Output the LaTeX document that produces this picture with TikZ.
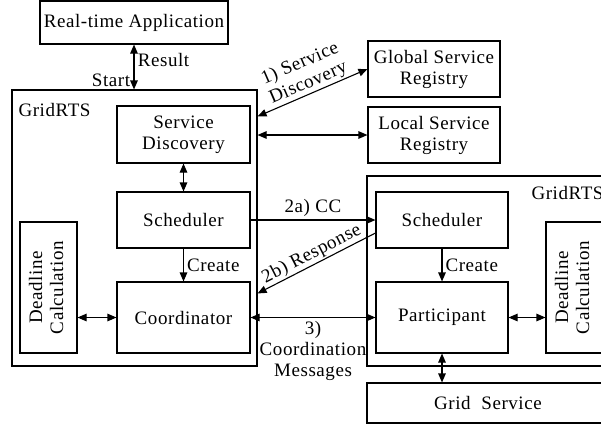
\documentclass[tikz,border=0pt]{standalone}
\usepackage{fontspec}
\setmainfont{Liberation Serif}[LetterSpace=3]
\usetikzlibrary{arrows.meta}

\begin{document}
\begin{tikzpicture}[x=1pt, y=-1pt, line width=1.1pt,
    font=\fontsize{19}{21}\selectfont,
    >={Triangle[length=9pt,width=7.5pt]},
    box/.style={draw, inner sep=0pt, align=center}]
    \useasboundingbox (0, 0) rectangle (601, 426);

    % the two GridRTS frames
    \node[box, minimum width=245, minimum height=276] (gridL) at (134.5, 228) {};
    \node[box, minimum width=250, minimum height=190] (gridR) at (492, 271) {};
    \node[anchor=north west, inner sep=0pt] (rtsL) at (18, 103) {GridRTS};
    \node[anchor=west, inner sep=0pt] (rtsR) at (531, 193) {GridRTS};

    \node[box, minimum width=188, minimum height=43] (app) at (134, 22.5) {Real-time Application};
    \node[box, minimum width=132, minimum height=56] (global) at (434, 69) {Global Service\\Registry};
    \node[box, minimum width=132, minimum height=56] (local) at (434, 135) {Local Service\\Registry};

    \node[box, minimum width=133, minimum height=57] (sdisc) at (183.5, 134.5) {Service\\Discovery};
    \node[box, minimum width=133, minimum height=56] (schedL) at (183.5, 220) {Scheduler};
    \node[box, minimum width=133, minimum height=71] (coord) at (183.5, 317.5) {Coordinator};
    \node[box, minimum width=57, minimum height=131] (deadL) at (48.5, 287.5)
        {\rotatebox{90}{\begin{tabular}{@{}c@{}}Deadline\\Calculation\end{tabular}}};

    \node[box, minimum width=132, minimum height=56] (schedR) at (442, 220) {Scheduler};
    \node[box, minimum width=132, minimum height=71] (part) at (442, 317.5) {Participant};
    \node[box, minimum width=57, minimum height=131] (deadR) at (574.5, 287.5)
        {\rotatebox{90}{\begin{tabular}{@{}c@{}}Deadline\\Calculation\end{tabular}}};
    \node[box, minimum width=242, minimum height=40] (gservice) at (488, 403) {Grid\ \ Service};

    \draw[<->] (app.south) -- (app.south |- gridL.north)
        node[pos=0.35, right] {Result} node[pos=0.8, left] {Start};
    \draw[<->] ([yshift=-27pt]gridL.north east) -- (global.west)
        node[midway, above, sloped, align=center, inner sep=1pt] {1) Service\\Discovery};
    \draw[<->] (local.west -| gridL.east) -- (local.west);
    \draw[<->] (sdisc) -- (schedL);
    \draw[->] (schedL) -- (schedR) node[midway, above] {2a) CC};
    \draw[->] ([yshift=-13pt]schedR.west) -- ([yshift=-12pt]coord.north east -| gridL.east)
        node[midway, above, sloped, inner sep=1pt] {2b) Response};
    \draw[->] (schedL) -- (coord) node[midway, right, inner sep=3pt] {Create};
    \draw[<->] (coord.west -| deadL.east) -- (coord.west);
    \draw[<->] (coord.east) -- (coord.east -| part.west)
        node[midway, below, align=center] {3)\\Coordination\\Messages};
    \draw[->] (schedR) -- (part) node[midway, right, inner sep=3pt] {Create};
    \draw[<->] (part.east) -- (part.east -| deadR.west);
    \draw[<->] (part.south) -- (part.south |- gservice.north);
\end{tikzpicture}
\end{document}
